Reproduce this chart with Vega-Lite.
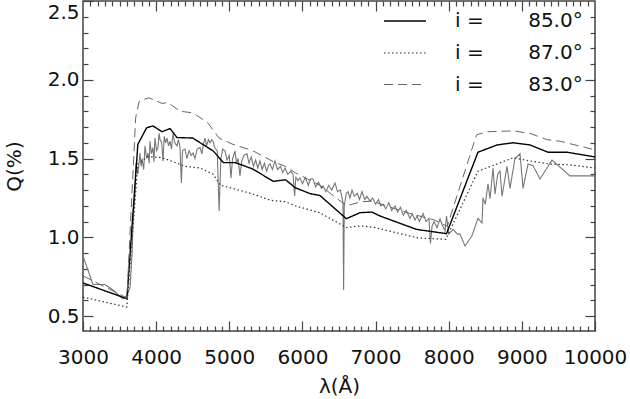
{
  "$schema": "https://vega.github.io/schema/vega-lite/v6.json",
  "width": 512,
  "height": 330,
  "autosize": "none",
  "padding": {"left": 83, "top": 1, "right": 35, "bottom": 68},
  "background": "white",
  "config": {
    "view": {"stroke": "#444444", "strokeWidth": 1.5},
    "axis": {
      "labelFont": "DejaVu Sans", "labelFontSize": 20, "labelColor": "#111111",
      "titleFont": "DejaVu Sans", "titleFontSize": 20, "titleFontWeight": "normal", "titleColor": "#111111",
      "tickColor": "#444444", "tickWidth": 1.2, "domain": false, "grid": false
    },
    "legend": {"labelFont": "DejaVu Sans", "labelFontSize": 20, "labelColor": "#111111"}
  },
  "datasets": {
    "obs": [
      {"lam":3000,"q":0.88},{"lam":3137,"q":0.70},{"lam":3300,"q":0.70},{"lam":3396,"q":0.67},{"lam":3547,"q":0.61},{"lam":3600,"q":0.63},{"lam":3643,"q":0.68},{"lam":3670,"q":0.89},{"lam":3684,"q":1.09},{"lam":3711,"q":1.29},{"lam":3725,"q":1.47},{"lam":3750,"q":1.40},{"lam":3779,"q":1.535},{"lam":3795,"q":1.45},{"lam":3807,"q":1.50},{"lam":3830,"q":1.43},{"lam":3848,"q":1.58},{"lam":3870,"q":1.50},{"lam":3889,"q":1.535},{"lam":3905,"q":1.47},{"lam":3916,"q":1.61},{"lam":3935,"q":1.53},{"lam":3957,"q":1.57},{"lam":3970,"q":1.48},{"lam":3984,"q":1.63},{"lam":4005,"q":1.55},{"lam":4025,"q":1.57},{"lam":4040,"q":1.66},{"lam":4053,"q":1.62},{"lam":4075,"q":1.60},{"lam":4094,"q":1.485},{"lam":4110,"q":1.64},{"lam":4130,"q":1.60},{"lam":4148,"q":1.63},{"lam":4170,"q":1.58},{"lam":4190,"q":1.61},{"lam":4210,"q":1.56},{"lam":4230,"q":1.656},{"lam":4255,"q":1.60},{"lam":4285,"q":1.58},{"lam":4305,"q":1.62},{"lam":4326,"q":1.57},{"lam":4345,"q":1.345},{"lam":4360,"q":1.55},{"lam":4395,"q":1.56},{"lam":4420,"q":1.50},{"lam":4450,"q":1.55},{"lam":4480,"q":1.52},{"lam":4504,"q":1.535},{"lam":4530,"q":1.50},{"lam":4560,"q":1.56},{"lam":4600,"q":1.57},{"lam":4625,"q":1.53},{"lam":4650,"q":1.60},{"lam":4668,"q":1.63},{"lam":4690,"q":1.58},{"lam":4715,"q":1.62},{"lam":4736,"q":1.60},{"lam":4760,"q":1.62},{"lam":4777,"q":1.61},{"lam":4800,"q":1.57},{"lam":4835,"q":1.55},{"lam":4861,"q":1.167},{"lam":4885,"q":1.50},{"lam":4910,"q":1.56},{"lam":4941,"q":1.548},{"lam":4970,"q":1.49},{"lam":5000,"q":1.52},{"lam":5023,"q":1.377},{"lam":5045,"q":1.50},{"lam":5078,"q":1.548},{"lam":5100,"q":1.47},{"lam":5120,"q":1.50},{"lam":5146,"q":1.39},{"lam":5170,"q":1.48},{"lam":5200,"q":1.52},{"lam":5242,"q":1.53},{"lam":5270,"q":1.47},{"lam":5300,"q":1.51},{"lam":5330,"q":1.45},{"lam":5360,"q":1.49},{"lam":5390,"q":1.44},{"lam":5420,"q":1.485},{"lam":5450,"q":1.43},{"lam":5480,"q":1.47},{"lam":5510,"q":1.42},{"lam":5540,"q":1.46},{"lam":5557,"q":1.466},{"lam":5590,"q":1.43},{"lam":5625,"q":1.485},{"lam":5660,"q":1.43},{"lam":5700,"q":1.45},{"lam":5730,"q":1.41},{"lam":5762,"q":1.44},{"lam":5800,"q":1.40},{"lam":5840,"q":1.42},{"lam":5871,"q":1.40},{"lam":5893,"q":1.262},{"lam":5910,"q":1.38},{"lam":5940,"q":1.36},{"lam":5967,"q":1.377},{"lam":6000,"q":1.34},{"lam":6040,"q":1.38},{"lam":6080,"q":1.33},{"lam":6110,"q":1.37},{"lam":6145,"q":1.37},{"lam":6180,"q":1.32},{"lam":6220,"q":1.35},{"lam":6260,"q":1.31},{"lam":6281,"q":1.326},{"lam":6320,"q":1.29},{"lam":6360,"q":1.33},{"lam":6400,"q":1.30},{"lam":6445,"q":1.345},{"lam":6480,"q":1.29},{"lam":6520,"q":1.30},{"lam":6541,"q":1.25},{"lam":6555,"q":1.22},{"lam":6563,"q":0.665},{"lam":6572,"q":1.20},{"lam":6600,"q":1.28},{"lam":6623,"q":1.29},{"lam":6650,"q":1.25},{"lam":6678,"q":1.30},{"lam":6710,"q":1.26},{"lam":6750,"q":1.28},{"lam":6780,"q":1.24},{"lam":6815,"q":1.29},{"lam":6850,"q":1.24},{"lam":6880,"q":1.26},{"lam":6924,"q":1.23},{"lam":6960,"q":1.25},{"lam":7000,"q":1.21},{"lam":7040,"q":1.24},{"lam":7070,"q":1.20},{"lam":7102,"q":1.21},{"lam":7140,"q":1.18},{"lam":7180,"q":1.22},{"lam":7220,"q":1.17},{"lam":7266,"q":1.20},{"lam":7300,"q":1.16},{"lam":7340,"q":1.19},{"lam":7380,"q":1.14},{"lam":7420,"q":1.17},{"lam":7471,"q":1.12},{"lam":7500,"q":1.15},{"lam":7540,"q":1.11},{"lam":7567,"q":1.135},{"lam":7600,"q":1.10},{"lam":7649,"q":1.15},{"lam":7690,"q":1.10},{"lam":7730,"q":1.12},{"lam":7750,"q":0.96},{"lam":7772,"q":1.07},{"lam":7800,"q":1.10},{"lam":7840,"q":1.06},{"lam":7881,"q":1.116},{"lam":7910,"q":1.08},{"lam":7950,"q":1.04},{"lam":7970,"q":1.135},{"lam":8000,"q":1.02},{"lam":8060,"q":1.05},{"lam":8120,"q":1.02},{"lam":8154,"q":1.02},{"lam":8223,"q":0.945},{"lam":8318,"q":1.01},{"lam":8400,"q":1.12},{"lam":8455,"q":1.09},{"lam":8469,"q":1.25},{"lam":8500,"q":1.21},{"lam":8537,"q":1.34},{"lam":8565,"q":1.245},{"lam":8606,"q":1.44},{"lam":8633,"q":1.275},{"lam":8670,"q":1.40},{"lam":8701,"q":1.42},{"lam":8729,"q":1.26},{"lam":8797,"q":1.45},{"lam":8838,"q":1.31},{"lam":8906,"q":1.50},{"lam":8975,"q":1.53},{"lam":9016,"q":1.31},{"lam":9084,"q":1.465},{"lam":9152,"q":1.455},{"lam":9248,"q":1.37},{"lam":9412,"q":1.49},{"lam":9658,"q":1.39},{"lam":10000,"q":1.39}
    ],
    "m85": [
      {"lam":3000,"q":0.71,"s":"i =   85.0°"},{"lam":3600,"q":0.61,"s":"i =   85.0°"},{"lam":3750,"q":1.59,"s":"i =   85.0°"},{"lam":3870,"q":1.695,"s":"i =   85.0°"},{"lam":3957,"q":1.707,"s":"i =   85.0°"},{"lam":4080,"q":1.67,"s":"i =   85.0°"},{"lam":4190,"q":1.69,"s":"i =   85.0°"},{"lam":4285,"q":1.633,"s":"i =   85.0°"},{"lam":4500,"q":1.63,"s":"i =   85.0°"},{"lam":4780,"q":1.548,"s":"i =   85.0°"},{"lam":4920,"q":1.474,"s":"i =   85.0°"},{"lam":5080,"q":1.474,"s":"i =   85.0°"},{"lam":5320,"q":1.434,"s":"i =   85.0°"},{"lam":5600,"q":1.355,"s":"i =   85.0°"},{"lam":5770,"q":1.365,"s":"i =   85.0°"},{"lam":5900,"q":1.315,"s":"i =   85.0°"},{"lam":6104,"q":1.277,"s":"i =   85.0°"},{"lam":6240,"q":1.265,"s":"i =   85.0°"},{"lam":6600,"q":1.118,"s":"i =   85.0°"},{"lam":6787,"q":1.156,"s":"i =   85.0°"},{"lam":6950,"q":1.16,"s":"i =   85.0°"},{"lam":7061,"q":1.135,"s":"i =   85.0°"},{"lam":7560,"q":1.05,"s":"i =   85.0°"},{"lam":7970,"q":1.023,"s":"i =   85.0°"},{"lam":8400,"q":1.54,"s":"i =   85.0°"},{"lam":8660,"q":1.586,"s":"i =   85.0°"},{"lam":8880,"q":1.60,"s":"i =   85.0°"},{"lam":9112,"q":1.586,"s":"i =   85.0°"},{"lam":9358,"q":1.54,"s":"i =   85.0°"},{"lam":9617,"q":1.54,"s":"i =   85.0°"},{"lam":10000,"q":1.51,"s":"i =   85.0°"}
    ],
    "m87": [
      {"lam":3000,"q":0.62,"s":"i =   87.0°"},{"lam":3600,"q":0.557,"s":"i =   87.0°"},{"lam":3750,"q":1.465,"s":"i =   87.0°"},{"lam":3880,"q":1.51,"s":"i =   87.0°"},{"lam":3960,"q":1.51,"s":"i =   87.0°"},{"lam":4080,"q":1.505,"s":"i =   87.0°"},{"lam":4200,"q":1.485,"s":"i =   87.0°"},{"lam":4400,"q":1.45,"s":"i =   87.0°"},{"lam":4600,"q":1.44,"s":"i =   87.0°"},{"lam":4780,"q":1.40,"s":"i =   87.0°"},{"lam":4880,"q":1.33,"s":"i =   87.0°"},{"lam":5050,"q":1.31,"s":"i =   87.0°"},{"lam":5320,"q":1.275,"s":"i =   87.0°"},{"lam":5560,"q":1.235,"s":"i =   87.0°"},{"lam":5760,"q":1.226,"s":"i =   87.0°"},{"lam":5900,"q":1.20,"s":"i =   87.0°"},{"lam":6240,"q":1.156,"s":"i =   87.0°"},{"lam":6600,"q":1.061,"s":"i =   87.0°"},{"lam":6790,"q":1.072,"s":"i =   87.0°"},{"lam":6960,"q":1.065,"s":"i =   87.0°"},{"lam":7580,"q":0.996,"s":"i =   87.0°"},{"lam":7960,"q":0.987,"s":"i =   87.0°"},{"lam":8400,"q":1.42,"s":"i =   87.0°"},{"lam":8660,"q":1.465,"s":"i =   87.0°"},{"lam":8880,"q":1.505,"s":"i =   87.0°"},{"lam":9110,"q":1.485,"s":"i =   87.0°"},{"lam":9380,"q":1.465,"s":"i =   87.0°"},{"lam":9650,"q":1.46,"s":"i =   87.0°"},{"lam":10000,"q":1.44,"s":"i =   87.0°"}
    ],
    "m83": [
      {"lam":3000,"q":0.755,"s":"i =   83.0°"},{"lam":3600,"q":0.615,"s":"i =   83.0°"},{"lam":3720,"q":1.76,"s":"i =   83.0°"},{"lam":3770,"q":1.866,"s":"i =   83.0°"},{"lam":3900,"q":1.885,"s":"i =   83.0°"},{"lam":4080,"q":1.85,"s":"i =   83.0°"},{"lam":4160,"q":1.855,"s":"i =   83.0°"},{"lam":4330,"q":1.80,"s":"i =   83.0°"},{"lam":4500,"q":1.79,"s":"i =   83.0°"},{"lam":4700,"q":1.73,"s":"i =   83.0°"},{"lam":4860,"q":1.63,"s":"i =   83.0°"},{"lam":5050,"q":1.59,"s":"i =   83.0°"},{"lam":5320,"q":1.55,"s":"i =   83.0°"},{"lam":5600,"q":1.48,"s":"i =   83.0°"},{"lam":5770,"q":1.45,"s":"i =   83.0°"},{"lam":5900,"q":1.41,"s":"i =   83.0°"},{"lam":6240,"q":1.33,"s":"i =   83.0°"},{"lam":6600,"q":1.20,"s":"i =   83.0°"},{"lam":6800,"q":1.225,"s":"i =   83.0°"},{"lam":6950,"q":1.23,"s":"i =   83.0°"},{"lam":7400,"q":1.16,"s":"i =   83.0°"},{"lam":7800,"q":1.11,"s":"i =   83.0°"},{"lam":7980,"q":1.07,"s":"i =   83.0°"},{"lam":8380,"q":1.65,"s":"i =   83.0°"},{"lam":8530,"q":1.67,"s":"i =   83.0°"},{"lam":8880,"q":1.675,"s":"i =   83.0°"},{"lam":9110,"q":1.66,"s":"i =   83.0°"},{"lam":9340,"q":1.62,"s":"i =   83.0°"},{"lam":9520,"q":1.61,"s":"i =   83.0°"},{"lam":10000,"q":1.555,"s":"i =   83.0°"}
    ]
  },
  "resolve": {"axis": {"x": "independent", "y": "independent"}},
  "layer": [
    {
      "data": {"name": "obs"},
      "mark": {"type": "line", "color": "#777777", "strokeWidth": 1.1, "clip": true},
      "encoding": {
        "x": {"field": "lam", "type": "quantitative", "scale": {"domain": [3000, 10000], "nice": false, "zero": false},
          "axis": {"orient": "bottom", "values": [3000,4000,5000,6000,7000,8000,9000,10000], "format": "d", "tickSize": -10, "labelPadding": 26, "title": "λ(Å)", "titlePadding": 9, "labelFlush": false, "labelOverlap": false}},
        "y": {"field": "q", "type": "quantitative", "scale": {"domain": [0.405, 2.5], "nice": false, "zero": false},
          "axis": {"orient": "left", "values": [0.5,1.0,1.5,2.0,2.5], "format": ".1f", "tickSize": -10, "labelPadding": 14, "title": "Q(%)", "titlePadding": 23, "labelFlush": true, "labelFlushOffset": -1, "labelOverlap": false}}
      }
    },
    {
      "data": {"name": "m85"},
      "mark": {"type": "line", "clip": true},
      "encoding": {
        "x": {"field": "lam", "type": "quantitative", "scale": {"domain": [3000, 10000], "nice": false, "zero": false},
          "axis": {"orient": "bottom", "values": [3100,3200,3300,3400,3500,3600,3700,3800,3900,4100,4200,4300,4400,4500,4600,4700,4800,4900,5100,5200,5300,5400,5500,5600,5700,5800,5900,6100,6200,6300,6400,6500,6600,6700,6800,6900,7100,7200,7300,7400,7500,7600,7700,7800,7900,8100,8200,8300,8400,8500,8600,8700,8800,8900,9100,9200,9300,9400,9500,9600,9700,9800,9900], "tickSize": -5, "labels": false, "title": null}},
        "y": {"field": "q", "type": "quantitative", "scale": {"domain": [0.405, 2.5], "nice": false, "zero": false},
          "axis": {"orient": "left", "values": [0.6,0.7,0.8,0.9,1.1,1.2,1.3,1.4,1.6,1.7,1.8,1.9,2.1,2.2,2.3,2.4], "tickSize": -5, "labels": false, "title": null}},
        "strokeDash": {"field": "s", "type": "nominal", "scale": {"domain": ["i =   85.0°","i =   87.0°","i =   83.0°"], "range": [[1,0],[1.5,2.5],[9,5]]},
          "legend": {"orient": "none", "legendX": 300, "legendY": -2, "title": null, "symbolType": "stroke", "symbolSize": 1764, "symbolStrokeWidth": 1.2, "labelOffset": 28, "padding": 0, "rowPadding": -3.5, "labelExpr": "replace(datum.label, 'i = ', 'i =\u00a0\u00a0\u00a0\u00a0\u00a0\u00a0')"}},
        "color": {"field": "s", "type": "nominal", "scale": {"domain": ["i =   85.0°","i =   87.0°","i =   83.0°"], "range": ["#000000","#333333","#666666"]}},
        "strokeWidth": {"field": "s", "type": "nominal", "scale": {"domain": ["i =   85.0°","i =   87.0°","i =   83.0°"], "range": [1.4,1,1.1]}}
      }
    },
    {
      "data": {"name": "m87"},
      "mark": {"type": "line", "clip": true},
      "encoding": {
        "x": {"field": "lam", "type": "quantitative", "scale": {"domain": [3000, 10000], "nice": false, "zero": false},
          "axis": {"orient": "top", "values": [4000,5000,6000,7000,8000,9000], "tickSize": -10, "labels": false, "title": null}},
        "y": {"field": "q", "type": "quantitative", "scale": {"domain": [0.405, 2.5], "nice": false, "zero": false},
          "axis": {"orient": "right", "values": [0.5,1.0,1.5,2.0], "tickSize": -10, "labels": false, "title": null}},
        "strokeDash": {"field": "s", "type": "nominal", "scale": {"domain": ["i =   85.0°","i =   87.0°","i =   83.0°"], "range": [[1,0],[1.5,2.5],[9,5]]}},
        "color": {"field": "s", "type": "nominal", "scale": {"domain": ["i =   85.0°","i =   87.0°","i =   83.0°"], "range": ["#000000","#333333","#666666"]}},
        "strokeWidth": {"field": "s", "type": "nominal", "scale": {"domain": ["i =   85.0°","i =   87.0°","i =   83.0°"], "range": [1.4,1,1.1]}}
      }
    },
    {
      "data": {"name": "m83"},
      "mark": {"type": "line", "clip": true},
      "encoding": {
        "x": {"field": "lam", "type": "quantitative", "scale": {"domain": [3000, 10000], "nice": false, "zero": false},
          "axis": {"orient": "top", "values": [3100,3200,3300,3400,3500,3600,3700,3800,3900,4100,4200,4300,4400,4500,4600,4700,4800,4900,5100,5200,5300,5400,5500,5600,5700,5800,5900,6100,6200,6300,6400,6500,6600,6700,6800,6900,7100,7200,7300,7400,7500,7600,7700,7800,7900,8100,8200,8300,8400,8500,8600,8700,8800,8900,9100,9200,9300,9400,9500,9600,9700,9800,9900], "tickSize": -5, "labels": false, "title": null}},
        "y": {"field": "q", "type": "quantitative", "scale": {"domain": [0.405, 2.5], "nice": false, "zero": false},
          "axis": {"orient": "right", "values": [0.6,0.7,0.8,0.9,1.1,1.2,1.3,1.4,1.6,1.7,1.8,1.9,2.1,2.2,2.3,2.4], "tickSize": -5, "labels": false, "title": null}},
        "strokeDash": {"field": "s", "type": "nominal", "scale": {"domain": ["i =   85.0°","i =   87.0°","i =   83.0°"], "range": [[1,0],[1.5,2.5],[9,5]]}},
        "color": {"field": "s", "type": "nominal", "scale": {"domain": ["i =   85.0°","i =   87.0°","i =   83.0°"], "range": ["#000000","#333333","#666666"]}},
        "strokeWidth": {"field": "s", "type": "nominal", "scale": {"domain": ["i =   85.0°","i =   87.0°","i =   83.0°"], "range": [1.4,1,1.1]}}
      }
    }
  ]
}
